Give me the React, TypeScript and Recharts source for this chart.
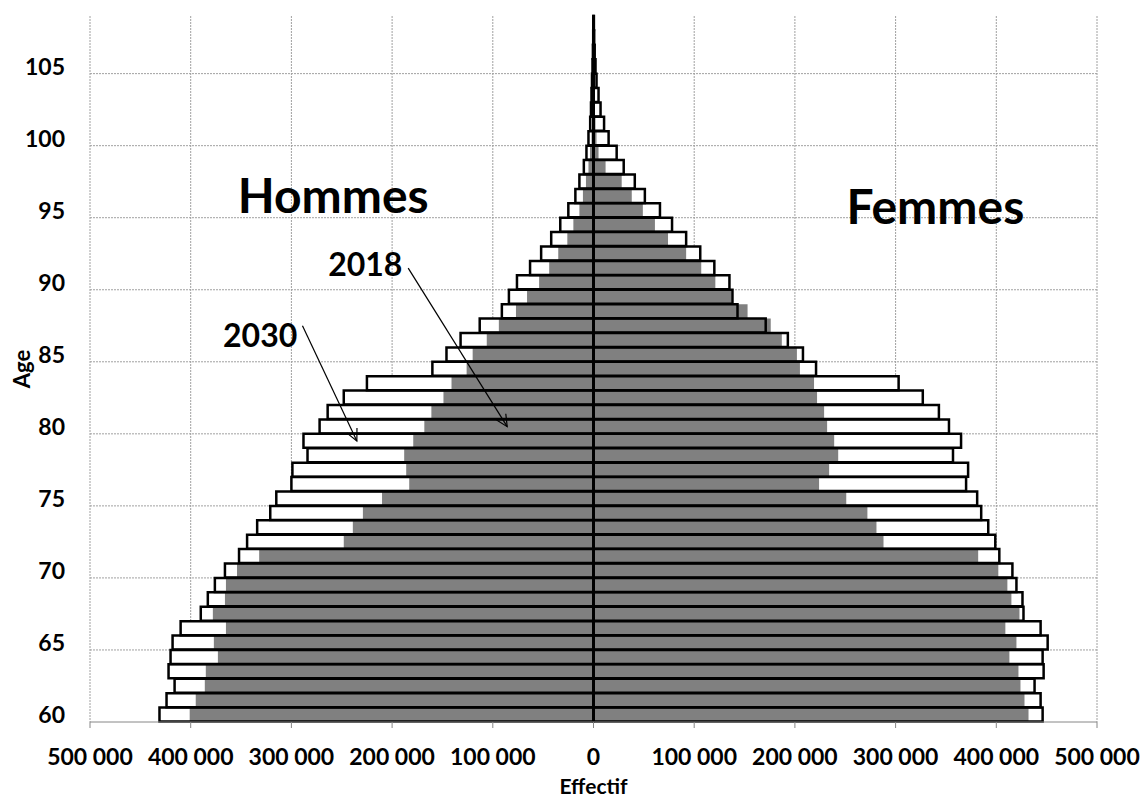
import React from 'react';
import {
  BarChart,
  Bar,
  XAxis,
  YAxis,
  CartesianGrid,
  ReferenceLine,
  ReferenceDot,
} from 'recharts';

// Ages 60 à 108
const AGES = [
  60, 61, 62, 63, 64, 65, 66, 67, 68, 69,
  70, 71, 72, 73, 74, 75, 76, 77, 78, 79,
  80, 81, 82, 83, 84, 85, 86, 87, 88, 89,
  90, 91, 92, 93, 94, 95, 96, 97, 98, 99,
  100, 101, 102, 103, 104, 105, 106, 107, 108,
];

// Effectifs
const HOMMES_2030 = [
  431000, 424000, 416000, 422000, 420000, 418000, 410000, 390000, 383000, 376000,
  366000, 352000, 344000, 334000, 321000, 315000, 300000, 299000, 284000, 288000,
  272000, 264000, 248000, 225000, 160000, 146000, 132000, 113000, 91000, 84000,
  76000, 63000, 52000, 42000, 33000, 25000, 18000, 14000, 9600, 7000,
  5000, 3300, 2500, 2000, 1500, 1000, 600, 300, 200,
];

const HOMMES_2018 = [
  401000, 395000, 386000, 385000, 373000, 377000, 365000, 378000, 366000, 365000,
  354000, 332000, 248000, 239000, 229000, 210000, 183000, 186000, 188000, 179000,
  168000, 161000, 149000, 141000, 126000, 120000, 106000, 94000, 77000, 66000,
  54000, 44000, 35000, 26000, 20000, 14000, 10500, 7500, 5000, 3500,
  2000, 1200, 800, 500, 300, 200, 100, 50, 20,
];

const FEMMES_2030 = [
  446000, 444000, 438000, 447000, 446000, 451000, 444000, 427000, 426000, 420000,
  416000, 403000, 399000, 392000, 385000, 381000, 370000, 372000, 357000, 365000,
  353000, 343000, 327000, 303000, 221000, 208000, 193000, 171000, 143000, 138000,
  135000, 120000, 106000, 92000, 78000, 66000, 51000, 41000, 30000, 23000,
  15000, 10500, 7000, 5000, 3000, 2000, 1200, 700, 400,
];

const FEMMES_2018 = [
  432000, 428000, 424000, 422000, 413000, 420000, 409000, 423000, 415000, 411000,
  402000, 382000, 288000, 281000, 272000, 251000, 224000, 234000, 243000, 239000,
  232000, 229000, 222000, 219000, 205000, 202000, 187000, 176000, 153000, 137000,
  121000, 107000, 92000, 74000, 61000, 49000, 38000, 28000, 12000, 5000,
  3000, 2000, 1500, 1000, 600, 400, 200, 100, 50,
];

const X_TICKS = [-500000, -400000, -300000, -200000, -100000, 0, 100000, 200000, 300000, 400000, 500000];
// quadrillage horizontal : sous les âges étiquetés
const GRID_AGES = [65, 70, 75, 80, 85, 90, 95, 100, 105];

const FONT = 'Lato';

const formatEffectif = (v: number) =>
  String(Math.abs(v)).replace(/\B(?=(\d{3})+(?!\d))/g, ' ');

const lignesAges = ({ yAxis }: any) => {
  const s = yAxis?.scale;
  if (!s) return [];
  const f = typeof s === 'function' ? s : (v: number) => s.map(v);
  const bw = typeof s.bandwidth === 'function' ? s.bandwidth() : 0;
  return GRID_AGES.map((a) => f(a) + bw);
};

const Fleche = (props: any) => {
  const { x1, y1, x2, y2 } = props;
  const ang = Math.atan2(y1 - y2, x1 - x2);
  const len = 13;
  const spread = 0.45;
  const a = [x2 + len * Math.cos(ang + spread), y2 + len * Math.sin(ang + spread)];
  const b = [x2 + len * Math.cos(ang - spread), y2 + len * Math.sin(ang - spread)];
  return (
    <g>
      <line x1={x1} y1={y1} x2={x2} y2={y2} stroke="#000" strokeWidth={1.2} />
      <polyline
        points={`${a[0]},${a[1]} ${x2},${y2} ${b[0]},${b[1]}`}
        fill="none"
        stroke="#000"
        strokeWidth={1.2}
      />
    </g>
  );
};

const bigLabel = (value: string, fontSize: number, dy = 0) => ({
  value,
  position: 'center' as const,
  dy,
  style: { fontFamily: FONT, fontWeight: 700, fontSize, fill: '#000' },
});

export default function App() {
  const data = AGES.map((age, i) => ({
    age,
    h2030: -HOMMES_2030[i],
    f2030: FEMMES_2030[i],
    h2018: -HOMMES_2018[i],
    f2018: FEMMES_2018[i],
  }));

  const tickStyle = { fontFamily: FONT, fontWeight: 700, fontSize: 23, fill: '#000' };

  return (
    <div style={{ position: 'absolute', left: 0, top: 0, width: 1144, height: 799, background: '#fff' }}>
      <BarChart
        width={1144}
        height={799}
        data={data}
        layout="vertical"
        stackOffset="sign"
        barCategoryGap={0}
        barGap={0}
        margin={{ top: 16, right: 47, bottom: 0, left: 0 }}
      >
        <XAxis
          type="number"
          domain={[-500000, 500000]}
          ticks={X_TICKS}
          tickFormatter={formatEffectif}
          height={77}
          axisLine={{ stroke: '#868686' }}
          tickLine={{ stroke: '#868686' }}
          tickSize={6}
          tickMargin={21}
          tick={tickStyle}
          label={{
            value: 'Effectif',
            position: 'insideBottom',
            offset: 5,
            style: { fontFamily: FONT, fontWeight: 700, fontSize: 21, fill: '#000' },
          }}
        />
        <YAxis
          yAxisId="fond"
          type="category"
          dataKey="age"
          reversed
          interval={4}
          width={90}
          axisLine={false}
          tickLine={false}
          tickSize={0}
          tickMargin={25}
          tick={tickStyle}
          label={{
            value: 'Age',
            angle: -90,
            position: 'insideLeft',
            offset: 22,
            style: { fontFamily: FONT, fontWeight: 700, fontSize: 22, fill: '#000', textAnchor: 'middle' },
          }}
        />
        <YAxis yAxisId="gris" type="category" dataKey="age" reversed hide width={0} orientation="right" />
        <YAxis yAxisId="contour" type="category" dataKey="age" reversed hide width={0} orientation="right" />
        <CartesianGrid
          yAxisId="fond"
          stroke="#a0a0a0"
          strokeDasharray="2 1"
          horizontalCoordinatesGenerator={lignesAges}
        />

        {/* 2030 : fond blanc */}
        <Bar yAxisId="fond" dataKey="h2030" stackId="fond" fill="#fff" isAnimationActive={false} />
        <Bar yAxisId="fond" dataKey="f2030" stackId="fond" fill="#fff" isAnimationActive={false} />
        {/* 2018 : gris */}
        <Bar yAxisId="gris" dataKey="h2018" stackId="gris" fill="#808080" isAnimationActive={false} />
        <Bar yAxisId="gris" dataKey="f2018" stackId="gris" fill="#808080" isAnimationActive={false} />
        {/* 2030 : contour noir */}
        <Bar yAxisId="contour" dataKey="h2030" stackId="contour" fill="none" stroke="#000" strokeWidth={2.5} isAnimationActive={false} />
        <Bar yAxisId="contour" dataKey="f2030" stackId="contour" fill="none" stroke="#000" strokeWidth={2.5} isAnimationActive={false} />

        <ReferenceLine yAxisId="fond" x={0} stroke="#000" strokeWidth={3} />

        <ReferenceLine
          yAxisId="fond"
          segment={[{ x: -184000, y: 91 }, { x: -85700, y: 80 }]}
          shape={Fleche}
        />
        <ReferenceLine
          yAxisId="fond"
          segment={[{ x: -289000, y: 87 }, { x: -235000, y: 79 }]}
          shape={Fleche}
        />

        <ReferenceDot yAxisId="fond" x={-258500} y={96} r={0} stroke="none" label={bigLabel('Hommes', 48)} />
        <ReferenceDot yAxisId="fond" x={339500} y={95} r={0} stroke="none" label={bigLabel('Femmes', 48, -4)} />
        <ReferenceDot yAxisId="fond" x={-226600} y={91} r={0} stroke="none" label={bigLabel('2018', 32, -4)} />
        <ReferenceDot yAxisId="fond" x={-331000} y={86} r={0} stroke="none" label={bigLabel('2030', 32, -5)} />
      </BarChart>
    </div>
  );
}
